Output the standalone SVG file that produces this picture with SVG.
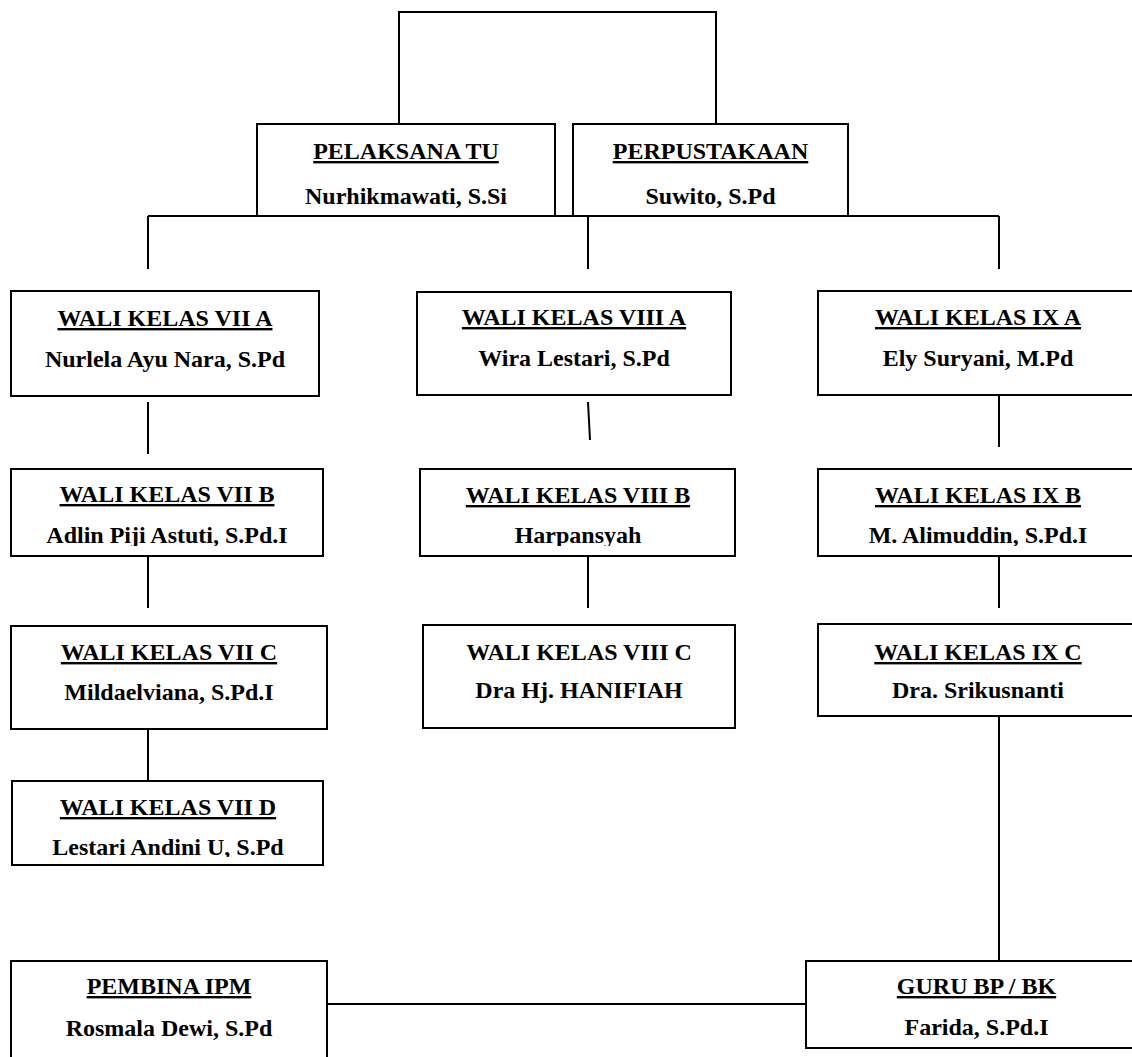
<svg xmlns="http://www.w3.org/2000/svg" width="1132" height="1057" viewBox="0 0 1132 1057">
<style>
.box{fill:#fff;stroke:#000;stroke-width:2}
.ln{stroke:#000;stroke-width:2;fill:none}
text{font-family:"Liberation Serif","Times New Roman",serif;font-weight:bold;font-size:24px;text-anchor:middle;fill:#000}
.u{text-decoration:underline}
</style>
<defs>
<clipPath id="clipB"><rect x="0" y="460" width="1132" height="86"/></clipPath>
<clipPath id="clipD"><rect x="0" y="775" width="1132" height="82"/></clipPath>
</defs>
<rect width="1132" height="1057" fill="#fff"/>
<g id="connectors">
<polyline class="ln" points="399,124 399,12 716,12 716,124"/>
<line class="ln" x1="148" y1="216" x2="999" y2="216"/>
<line class="ln" x1="148" y1="216" x2="148" y2="269"/>
<line class="ln" x1="588" y1="216" x2="588" y2="269"/>
<line class="ln" x1="999" y1="216" x2="999" y2="269"/>
<line class="ln" x1="148" y1="402" x2="148" y2="454"/>
<line class="ln" x1="148" y1="556" x2="148" y2="608"/>
<line class="ln" x1="148" y1="729" x2="148" y2="781"/>
<line class="ln" x1="588" y1="402" x2="590" y2="440"/>
<line class="ln" x1="588" y1="556" x2="588" y2="608"/>
<line class="ln" x1="999" y1="395" x2="999" y2="447"/>
<line class="ln" x1="999" y1="556" x2="999" y2="608"/>
<line class="ln" x1="999" y1="716" x2="999" y2="961"/>
<line class="ln" x1="327" y1="1004" x2="806" y2="1004"/>
</g>
<g id="pelaksana-tu">
<rect class="box" x="257" y="124" width="298" height="92"/>
<text x="406" y="159" class="u" font-size="23">PELAKSANA TU</text>
<text x="406" y="204" font-size="22">Nurhikmawati, S.Si</text>
</g>
<g id="perpustakaan">
<rect class="box" x="573" y="124" width="275" height="92"/>
<text x="710.5" y="159" class="u" font-size="26">PERPUSTAKAAN</text>
<text x="710.5" y="204" font-size="26">Suwito, S.Pd</text>
</g>
<g id="wali-vii-a">
<rect class="box" x="11" y="291" width="308" height="105"/>
<text x="165" y="326" class="u">WALI KELAS VII A</text>
<text x="165" y="367">Nurlela Ayu Nara, S.Pd</text>
</g>
<g id="wali-viii-a">
<rect class="box" x="417" y="292" width="314" height="103"/>
<text x="574" y="325" class="u">WALI KELAS VIII A</text>
<text x="574" y="366">Wira Lestari, S.Pd</text>
</g>
<g id="wali-ix-a">
<rect class="box" x="818" y="291" width="320" height="104"/>
<text x="978" y="325" class="u">WALI KELAS IX A</text>
<text x="978" y="366">Ely Suryani, M.Pd</text>
</g>
<g id="wali-vii-b">
<rect class="box" x="11" y="469" width="312" height="87"/>
<text x="167" y="502" class="u">WALI KELAS VII B</text>
<text x="167" y="543" clip-path="url(#clipB)">Adlin Piji Astuti, S.Pd.I</text>
</g>
<g id="wali-viii-b">
<rect class="box" x="420" y="469" width="315" height="87"/>
<text x="578" y="503" class="u">WALI KELAS VIII B</text>
<text x="578" y="543" clip-path="url(#clipB)">Harpansyah</text>
</g>
<g id="wali-ix-b">
<rect class="box" x="818" y="469" width="320" height="87"/>
<text x="978" y="503" class="u">WALI KELAS IX B</text>
<text x="978" y="543" clip-path="url(#clipB)">M. Alimuddin, S.Pd.I</text>
</g>
<g id="wali-vii-c">
<rect class="box" x="11" y="626" width="316" height="103"/>
<text x="169" y="660" class="u">WALI KELAS VII C</text>
<text x="169" y="700">Mildaelviana, S.Pd.I</text>
</g>
<g id="wali-viii-c">
<rect class="box" x="423" y="625" width="312" height="103"/>
<text x="579" y="660">WALI KELAS VIII C</text>
<text x="579" y="698">Dra Hj. HANIFIAH</text>
</g>
<g id="wali-ix-c">
<rect class="box" x="818" y="624" width="320" height="92"/>
<text x="978" y="660" class="u">WALI KELAS IX C</text>
<text x="978" y="698">Dra. Srikusnanti</text>
</g>
<g id="wali-vii-d">
<rect class="box" x="12" y="781" width="311" height="84"/>
<text x="168" y="815" class="u">WALI KELAS VII D</text>
<text x="168" y="855" clip-path="url(#clipD)">Lestari Andini U, S.Pd</text>
</g>
<g id="pembina-ipm">
<rect class="box" x="11" y="961" width="316" height="110"/>
<text x="169" y="994" class="u">PEMBINA IPM</text>
<text x="169" y="1036">Rosmala Dewi, S.Pd</text>
</g>
<g id="guru-bp-bk">
<rect class="box" x="806" y="961" width="340" height="87"/>
<text x="976.5" y="994" class="u">GURU BP / BK</text>
<text x="976.5" y="1035">Farida, S.Pd.I</text>
</g>
</svg>
